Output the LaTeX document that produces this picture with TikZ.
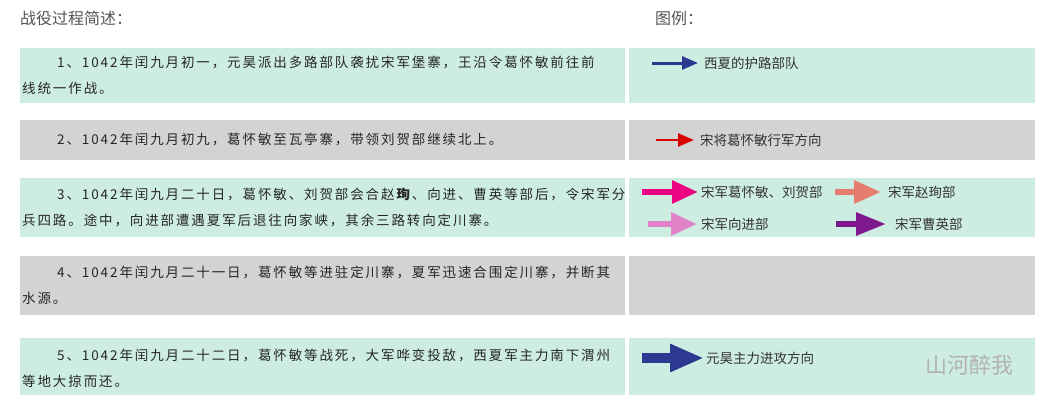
\documentclass[tikz,border=0pt]{standalone}
\usepackage{fontspec}
\setmainfont{Noto Sans CJK SC}
\newfontfamily\spaced[LetterSpace=14]{Noto Sans CJK SC}
\usetikzlibrary{arrows.meta}
\definecolor{teal}{HTML}{CDEDE3}
\definecolor{grayb}{HTML}{D3D3D3}
\definecolor{navy}{HTML}{2B3990}
\definecolor{hdr}{HTML}{555555}
\definecolor{salmon}{RGB}{230,125,110}
\definecolor{pinkl}{RGB}{225,130,200}
\definecolor{purp}{RGB}{125,25,140}
\begin{document}
\begin{tikzpicture}[x=1pt,y=-1pt,
  txt/.style={anchor=west,inner sep=0pt,font=\spaced\fontsize{13.5}{15}\selectfont,text=black!85},
  hd/.style={anchor=west,inner sep=0pt,font=\fontsize{16}{18}\selectfont,text=hdr},
  lg/.style={anchor=west,inner sep=0pt,font=\fontsize{13.5}{15}\selectfont,text=black!80},
  arr/.style={-{Triangle[length=16,width=13]},line width=#1}]
\useasboundingbox (0,0) rectangle (1061,413);
\node[hd] (h1) at (20,18) {战役过程简述：};
\node[hd] (h2) at (655,18) {图例：};
% boxes
\fill[teal] (20,48) rectangle (625,103);
\fill[teal] (629,48) rectangle (1035,103);
\fill[grayb] (20,120) rectangle (625,160);
\fill[grayb] (629,120) rectangle (1035,160);
\fill[teal] (20,178) rectangle (625,237);
\fill[teal] (629,178) rectangle (1035,237);
\fill[grayb] (20,256) rectangle (625,315);
\fill[grayb] (629,256) rectangle (1035,315);
\fill[teal] (20,338) rectangle (625,395);
\fill[teal] (629,338) rectangle (1035,395);
% texts
\node[txt] (t1a) at (57,63) {1、1042年闰九月初一，元昊派出多路部队袭扰宋军堡寨，王沿令葛怀敏前往前};
\node[txt] (t1b) at (22,88) {线统一作战。};
\node[txt] (t2) at (57,140) {2、1042年闰九月初九，葛怀敏至瓦亭寨，带领刘贺部继续北上。};
\node[txt] (t3a) at (57,194) {3、1042年闰九月二十日，葛怀敏、刘贺部会合赵\textbf{珣}、向进、曹英等部后，令宋军分};
\node[txt] (t3b) at (22,220) {兵四路。途中，向进部遭遇夏军后退往向家峡，其余三路转向定川寨。};
\node[txt] (t4a) at (57,272) {4、1042年闰九月二十一日，葛怀敏等进驻定川寨，夏军迅速合围定川寨，并断其};
\node[txt] (t4b) at (22,298) {水源。};
\node[txt] (t5a) at (57,355) {5、1042年闰九月二十二日，葛怀敏等战死，大军哗变投敌，西夏军主力南下渭州};
\node[txt] (t5b) at (22,381) {等地大掠而还。};
% legend
\coordinate (a1s) at (652,63); \coordinate (a1e) at (698,63);
\draw[arr=3,navy] (a1s) -- (a1e);
\node[lg] (l1) at (704,63) {西夏的护路部队};
\coordinate (a2s) at (656,140); \coordinate (a2e) at (694,140);
\draw[arr=2.5,red!85!black] (a2s) -- (a2e);
\node[lg] (l2) at (700,140) {宋将葛怀敏行军方向};
\coordinate (a3s) at (642,192); \coordinate (a3e) at (698,192);
\draw[-{Triangle[length=26,width=22]},line width=6,magenta!90!red] (a3s) -- (a3e);
\node[lg] (l3) at (701,192) {宋军葛怀敏、刘贺部};
\coordinate (a4s) at (835,192); \coordinate (a4e) at (881,192);
\draw[-{Triangle[length=27,width=22]},line width=6,salmon] (a4s) -- (a4e);
\node[lg] (l4) at (888,192) {宋军赵珣部};
\coordinate (a5s) at (648,224); \coordinate (a5e) at (697,224);
\draw[-{Triangle[length=26,width=22]},line width=6,pinkl] (a5s) -- (a5e);
\node[lg] (l5) at (701,224) {宋军向进部};
\coordinate (a6s) at (836,224); \coordinate (a6e) at (886,224);
\draw[-{Triangle[length=30,width=22]},line width=6,purp] (a6s) -- (a6e);
\node[lg] (l6) at (895,224) {宋军曹英部};
\coordinate (a7s) at (642,358); \coordinate (a7e) at (704,358);
\draw[-{Triangle[length=34,width=26]},line width=10,navy] (a7s) -- (a7e);
\node[lg] (l7) at (706,358) {元昊主力进攻方向};
\node[anchor=west,inner sep=0pt,font=\fontsize{22}{24}\selectfont,text=gray!60] (wm) at (925,365) {山河醉我};
\end{tikzpicture}
\end{document}
